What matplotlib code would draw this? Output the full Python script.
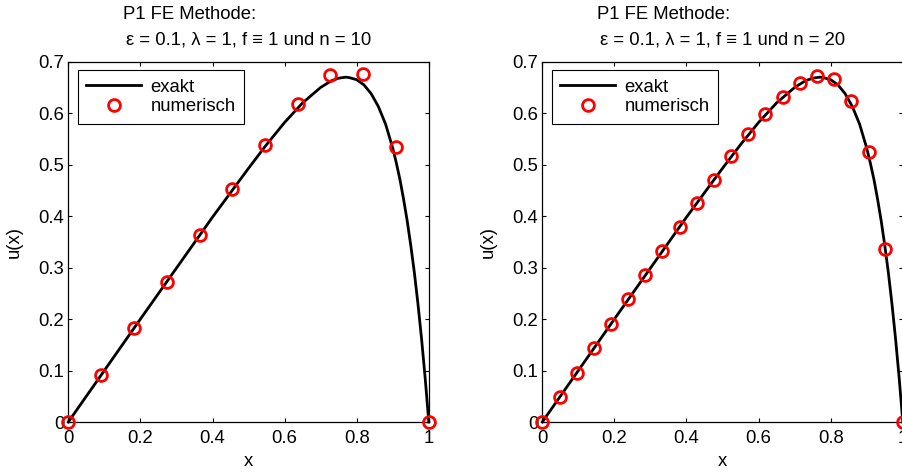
import numpy as np
import matplotlib
matplotlib.use('Agg')
import matplotlib.pyplot as plt

plt.rcParams['font.family'] = ['Liberation Sans', 'DejaVu Sans']
plt.rcParams['font.size'] = 13

# exact solution
x_exakt = [0.0, 0.1, 0.2, 0.3, 0.4, 0.5, 0.55, 0.6, 0.65, 0.7, 0.73, 0.75, 0.77,
           0.78, 0.8, 0.82, 0.84, 0.86, 0.88, 0.9, 0.91, 0.92, 0.93, 0.94, 0.95,
           0.96, 0.97, 0.98, 0.99, 1.0]
u_exakt = [0.0, 0.1, 0.2, 0.299, 0.398, 0.493, 0.539, 0.582, 0.620, 0.650, 0.663,
           0.668, 0.670, 0.669, 0.665, 0.655, 0.638, 0.613, 0.579, 0.532, 0.503,
           0.471, 0.433, 0.391, 0.343, 0.290, 0.229, 0.161, 0.085, 0.0]

# numerical solution n = 10
x_n10 = [0.0, 0.091, 0.182, 0.273, 0.364, 0.455, 0.545, 0.636, 0.727, 0.818, 0.909, 1.0]
u_n10 = [0.0, 0.091, 0.182, 0.272, 0.363, 0.453, 0.538, 0.617, 0.675, 0.677, 0.535, 0.0]

# numerical solution n = 20
x_n20 = [0.0, 0.048, 0.095, 0.143, 0.190, 0.238, 0.286, 0.333, 0.381, 0.429, 0.476,
         0.524, 0.571, 0.619, 0.667, 0.714, 0.762, 0.810, 0.857, 0.905, 0.952, 1.0]
u_n20 = [0.0, 0.048, 0.095, 0.143, 0.190, 0.238, 0.285, 0.332, 0.379, 0.425, 0.471,
         0.516, 0.559, 0.598, 0.632, 0.659, 0.673, 0.667, 0.624, 0.525, 0.337, 0.0]

panels = [(10, x_n10, u_n10), (20, x_n20, u_n20)]
lefts = [68.3 / 903, 542.3 / 903]
fs = 13.3

fig = plt.figure(figsize=(9.03, 4.73), dpi=100)
for (n, xn, un), left in zip(panels, lefts):
    ax = fig.add_axes([left, 51 / 473, 360.5 / 903, 360.3 / 473])
    ax.plot(x_exakt, u_exakt, color='black', lw=2.0, label='exakt', clip_on=False)
    ax.plot(xn, un, 'o', mfc='none', mec='red', mew=2.0, ms=8.5, label='numerisch',
            clip_on=False, zorder=3)
    ax.set_xlim(0, 1)
    ax.set_ylim(0, 0.7)
    ax.set_xticks([0, 0.2, 0.4, 0.6, 0.8, 1])
    ax.set_xticklabels(['0', '0.2', '0.4', '0.6', '0.8', '1'])
    ax.set_yticks(np.arange(0, 0.71, 0.1))
    ax.set_yticklabels(['0', '0.1', '0.2', '0.3', '0.4', '0.5', '0.6', '0.7'])
    ax.tick_params(direction='in', top=True, right=True, length=3, width=0.8,
                   labelsize=fs)
    ax.tick_params(axis='x', pad=6)
    ax.tick_params(axis='y', pad=3)
    for s in ax.spines.values():
        s.set_linewidth(0.9)
    ax.set_xlabel('x', fontsize=fs)
    ax.xaxis.set_label_coords(0.5, -0.085)
    ax.set_ylabel('u(x)', fontsize=fs)
    ax.yaxis.set_label_coords(-0.125, 0.5)
    ax.text(0.152, 1.132, 'P1 FE Methode:', transform=ax.transAxes,
            ha='left', va='center', fontsize=fs)
    ax.text(0.5, 1.06, 'ε = 0.1, λ = 1, f ≡ 1 und n = %d' % n, transform=ax.transAxes,
            ha='center', va='center', fontsize=fs)
    leg = ax.legend(loc='upper left', bbox_to_anchor=(0.026, 0.976), fontsize=fs,
                    fancybox=False, framealpha=1, edgecolor='black', handlelength=3.0,
                    borderpad=0.45, labelspacing=0.15, handletextpad=0.5,
                    borderaxespad=0)
    leg.get_frame().set_linewidth(0.8)

fig.savefig('out.png', dpi=100)
